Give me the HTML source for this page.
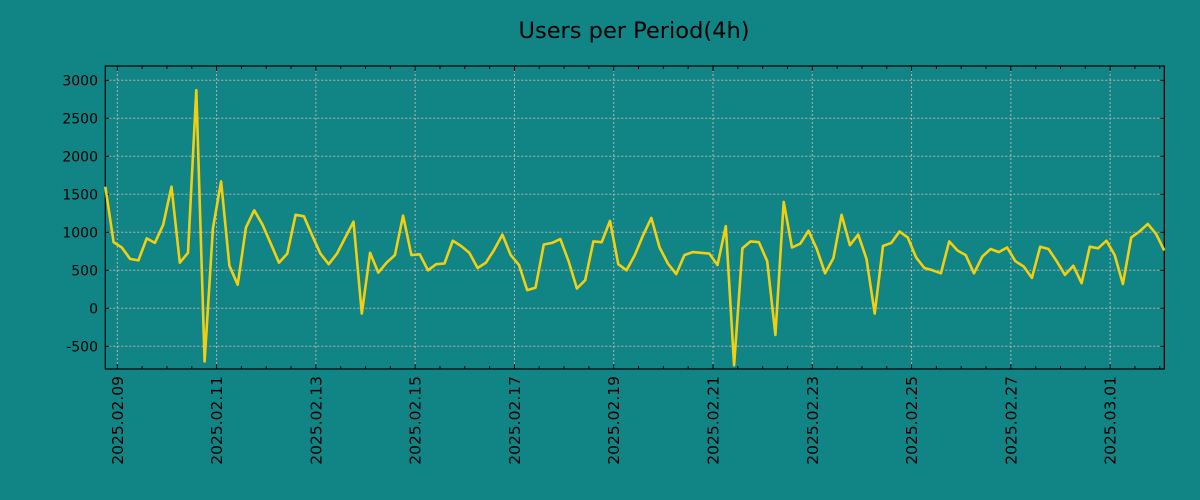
<!DOCTYPE html>
<html><head><meta charset="utf-8"><style>
html,body{margin:0;padding:0;background:#118486;}
svg{display:block;font-family:"DejaVu Sans","Liberation Sans",sans-serif;}
</style></head><body>
<svg width="1200" height="500" viewBox="0 0 1200 500">
<rect width="1200" height="500" fill="#118486"/>
<text x="634" y="38" text-anchor="middle" font-size="22.5" fill="#000">Users per Period(4h)</text>
<g id="grid"></g>
<g id="axes"></g>
<g id="series"></g>
</svg>
<script>
const users = [1600,870,800,650,630,920,860,1100,1600,600,
730,2870,-700,1050,1670,560,310,1060,1290,1100,
850,600,720,1230,1210,960,720,580,720,930,
1140,-70,730,470,600,700,1220,700,710,500,
580,590,890,820,730,530,600,770,970,700,
570,240,270,840,860,910,620,260,370,880,
870,1150,580,500,700,960,1190,800,590,450,
700,740,730,720,570,1080,-750,790,880,870,
620,-350,1400,800,850,1020,780,460,660,1230,
830,970,650,-70,820,860,1010,930,670,530,
500,460,880,760,700,460,680,780,740,800,
620,550,400,810,780,620,440,560,330,810,
790,890,700,320,930,1010,1110,980,760];
const yTicks = [3000,2500,2000,1500,1000,500,0,-500];
const xTickLabels = ["2025.02.09","2025.02.11","2025.02.13","2025.02.15","2025.02.17","2025.02.19","2025.02.21","2025.02.23","2025.02.25","2025.02.27","2025.03.01"];
const xTickDays = [0,2,4,6,8,10,12,14,16,18,20];
const firstPointDay = -0.242;
const pointsPerDay = 6;

const L=105.3,R=1164.3,T=66,B=369;
const pxPerDay=(R-L)/((users.length-1)/pointsPerDay);
function xDay(d){return L+(d-firstPointDay)*pxPerDay;}
function xIdx(i){return xDay(firstPointDay+i/pointsPerDay);}
function y(v){return 308.3-v*(38/500);}
const NS="http://www.w3.org/2000/svg";
function mk(tag,attrs,parent){const e=document.createElementNS(NS,tag);for(const k in attrs)e.setAttribute(k,attrs[k]);parent.appendChild(e);return e;}
const grid=document.getElementById('grid'),axes=document.getElementById('axes'),series=document.getElementById('series');

yTicks.forEach(v=>{
  const g=mk('line',{x1:L,x2:R,y1:y(v),y2:y(v),stroke:'#b8b0b0','stroke-width':1,'stroke-dasharray':'2,2'},grid);
  
  
  const t=mk('line',{x1:L,x2:L+4,y1:y(v),y2:y(v),stroke:'#000'},axes);
  
  
  const t2=mk('line',{x1:R-4,x2:R,y1:y(v),y2:y(v),stroke:'#000'},axes);
  
  
  const lb=mk('text',{x:98,y:y(v)+5,'text-anchor':'end','font-size':14,fill:'#000'},axes);
  lb.textContent=v;
  
  
});
for(let d=-0.5;d<=21.5;d+=0.5){
  const x=xDay(d); if(x<L||x>R)continue;
  const major=xTickDays.includes(d);
  const t=mk('line',{x1:x,x2:x,y1:B,y2:B-(major?5:3),stroke:'#000'},axes);
  
  
  const t2=mk('line',{x1:x,x2:x,y1:T,y2:T+(major?5:3),stroke:'#000'},axes);
  
  
}
xTickDays.forEach((d,i)=>{
  const x=xDay(d);
  const g=mk('line',{x1:x,x2:x,y1:T,y2:B,stroke:'#b8b0b0','stroke-width':1,'stroke-dasharray':'2,2'},grid);
  
  
  const lb=mk('text',{x:0,y:0,'text-anchor':'end','font-size':15.5,fill:'#000',transform:`translate(${x+5.5},376) rotate(-90)`},axes);
  lb.textContent=xTickLabels[i];
  
  
});
const frame=mk('rect',{x:L,y:T,width:R-L,height:B-T,fill:'none',stroke:'#000','stroke-width':1.2},axes);


const pts=users.map((v,i)=>xIdx(i).toFixed(1)+','+y(v).toFixed(1)).join(' ');
const line=mk('polyline',{points:pts,fill:'none',stroke:'#f2d00f','stroke-width':2.6,'stroke-linejoin':'round'},series);


</script>
</body></html>
